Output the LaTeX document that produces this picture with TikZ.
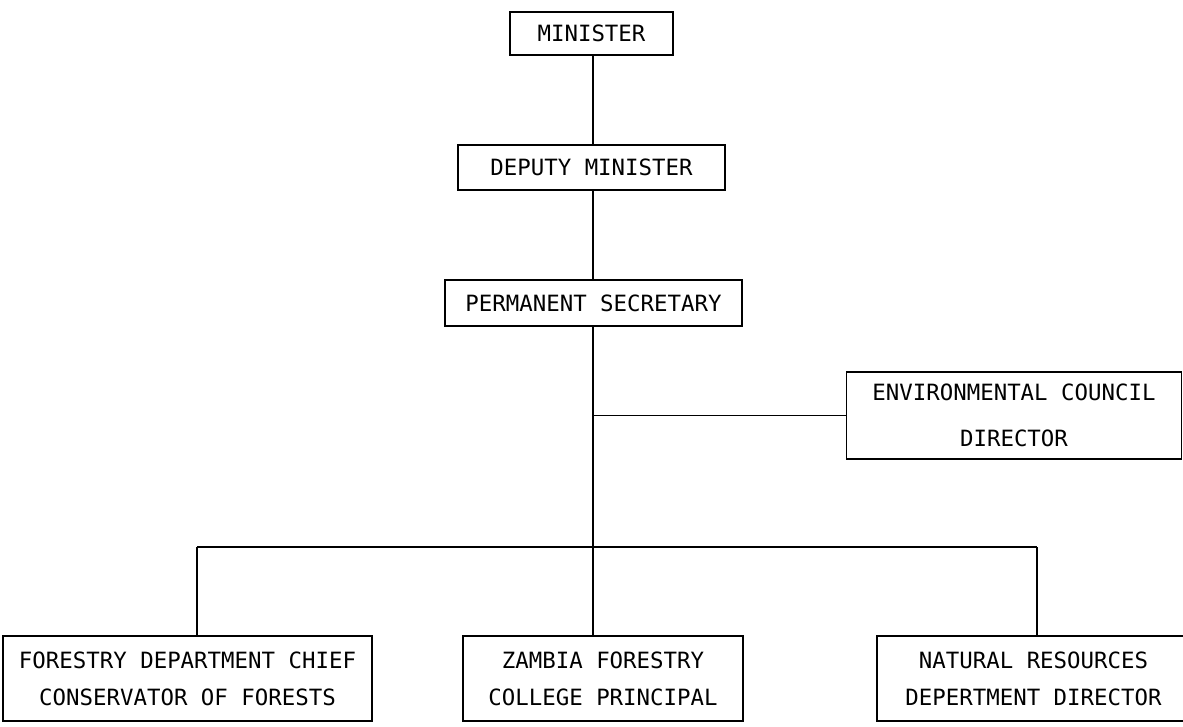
\documentclass[tikz,border=0pt]{standalone}
\usepackage{fontspec}
\setmonofont{DejaVu Sans Mono}
\begin{document}
\begin{tikzpicture}[x=1pt,y=-1pt,
  post/.style={draw=black, line width=1.8pt, inner sep=0pt, align=center,
    font=\ttfamily\fontsize{22.4}{37}\selectfont},
  trunk/.style={line width=2.8pt},
  branch/.style={line width=1.7pt}]
\useasboundingbox[fill=white] (0,0) rectangle (1183,726);

% offices
\node[post, minimum width=163pt, minimum height=43pt] (min)  at (591.5,33.5) {MINISTER};
\node[post, minimum width=267pt, minimum height=45pt] (dep)  at (591.5,167.5) {DEPUTY MINISTER};
\node[post, minimum width=297pt, minimum height=46pt] (perm) at (593.5,303) {PERMANENT SECRETARY};
\node[post, minimum width=335pt, minimum height=87pt,
      font=\ttfamily\fontsize{22.4}{46}\selectfont] (env) at (1014,415.5)
      {ENVIRONMENTAL COUNCIL\\DIRECTOR};
\node[post, minimum width=369pt, minimum height=85pt] (fd)  at (187.5,678.5)
      {FORESTRY DEPARTMENT CHIEF\\CONSERVATOR OF FORESTS};
\node[post, minimum width=280pt, minimum height=85pt] (zfc) at (603,678.5)
      {ZAMBIA FORESTRY\\COLLEGE PRINCIPAL};
\node[post, minimum width=313pt, minimum height=85pt] (nrd) at (1033.5,678.5)
      {NATURAL RESOURCES\\DEPERTMENT DIRECTOR};

% chain of command
\coordinate (spine) at (593,0);
\draw[trunk] (spine |- min.south) -- (spine |- dep.north);
\draw[trunk] (spine |- dep.south) -- (spine |- perm.north);
\draw[trunk] (spine |- perm.south) -- (spine |- zfc.north);

% advisory council
\coordinate (envj) at (spine |- env.west);
\draw[branch] (envj) -- (env.west);

% departments bus
\coordinate (busL) at (197,547);
\coordinate (busR) at (1037,547);
\draw[branch] (busL) -- (busR);
\draw[trunk] (busL) -- (busL |- fd.north);
\draw[trunk] (busR) -- (busR |- nrd.north);
\end{tikzpicture}
\end{document}
